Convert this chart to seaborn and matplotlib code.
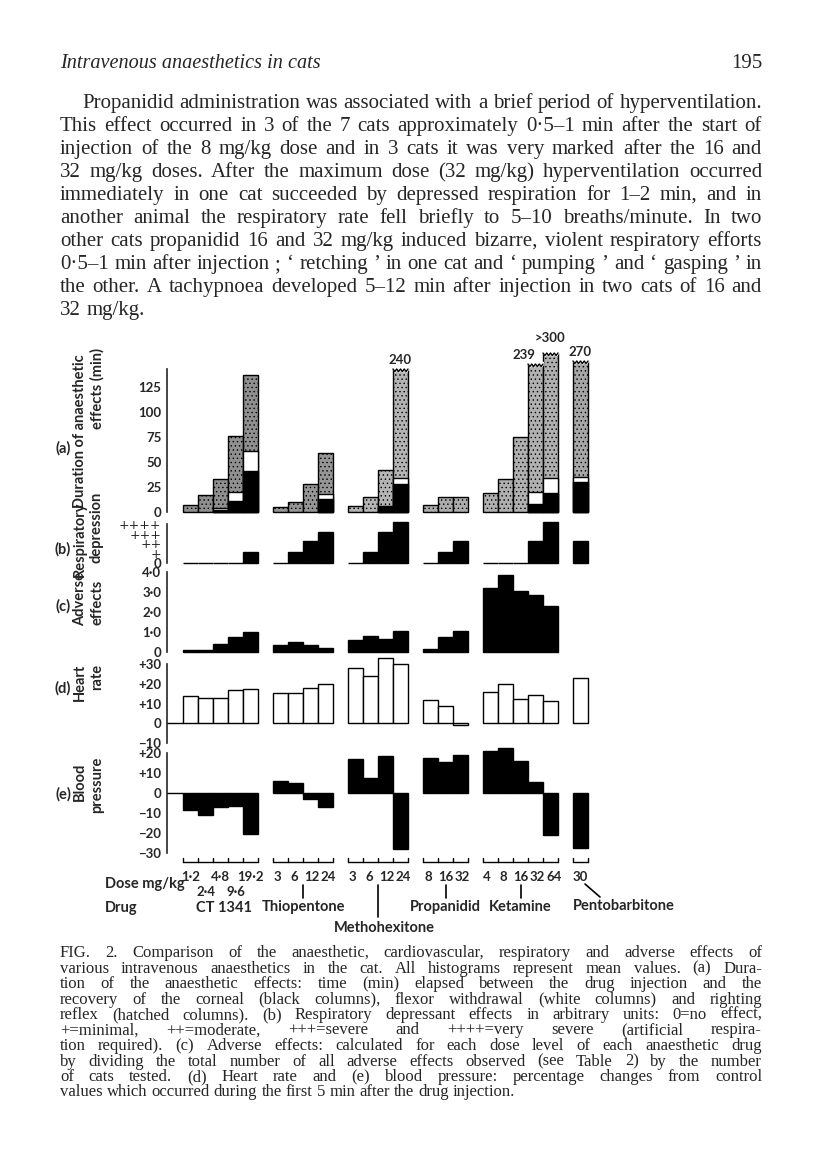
import numpy as np
import pandas as pd
import matplotlib
matplotlib.use('Agg')
import matplotlib.pyplot as plt
import matplotlib.transforms as mtransforms
import seaborn as sns

# ---------------- values ----------------
drugs = ['CT 1341', 'Thiopentone', 'Methohexitone', 'Propanidid', 'Ketamine', 'Pentobarbitone']
doses = [['1·2', '2·4', '4·8', '9·6', '19·2'],
         ['3', '6', '12', '24'],
         ['3', '6', '12', '24'],
         ['8', '16', '32'],
         ['4', '8', '16', '32', '64'],
         ['30']]

# (a) duration (min): righting reflex (hatched), flexor withdrawal (white), corneal (black)
righting = [[7, 17, 33, 76, 137], [5, 10, 28, 59], [6, 15, 42, 240], [7, 15, 15],
            [19, 33, 75, 239, 300], [270]]
# height at which the broken columns are cut on the drawing
righting_drawn = [[7, 17, 33, 76, 137], [5, 10, 28, 59], [6, 15, 42, 143], [7, 15, 15],
                  [19, 33, 75, 148, 159], [151]]
break_labels = ['240', '239', '>300', '270']
flexor = [[None, None, 4, 20, 61], [None, None, None, 18], [None, None, 6.5, 34], [None, None, None],
          [None, None, None, 20, 34], [35]]
corneal = [[None, None, 2, 11, 41], [None, None, None, 13], [None, None, 5, 28], [None, None, None],
           [None, None, None, 8, 19], [30]]
# (b) respiratory depression, 0 .. ++++
resp = [[0, 0, 0, 0, 1.1], [0, 1.1, 2.2, 3.2], [0, 1.1, 3.2, 4.2], [0, 1.1, 2.2],
        [0, 0, 0, 2.2, 4.2], [2.2]]
# (c) adverse effects per cat
adverse = [[0.1, 0.1, 0.42, 0.75, 1.0], [0.35, 0.5, 0.37, 0.2], [0.62, 0.82, 0.63, 1.05],
           [0.17, 0.75, 1.05], [3.2, 3.85, 3.05, 2.83, 2.3], [None]]
# (d) heart rate, % change
heart = [[14, 13, 13, 17, 17.5], [15.5, 15.5, 18, 20], [28, 24, 33, 30], [12, 9, -1],
         [16, 20, 12.5, 14.5, 11.5], [23]]
# (e) blood pressure, % change
bp = [[-8.3, -11, -7, -6.3, -20.5], [5.8, 5.2, -3, -7], [17, 7.3, 18.7, -28], [17.3, 15.3, 19.2],
      [21, 22.5, 16, 5.5, -21], [-27.5]]

greys = {'CT 1341': '#909090', 'Thiopentone': '#969696', 'Methohexitone': '#b4b4b4',
         'Propanidid': '#adadad', 'Ketamine': '#b0b0b0', 'Pentobarbitone': '#a6a6a6'}

rows = []
start = 0
for g, drug in enumerate(drugs):
    for i, dose in enumerate(doses[g]):
        rows.append(dict(drug=drug, group=g, dose=dose, pos=start + i + 0.5,
                         a_total=righting[g][i], a_drawn=righting_drawn[g][i],
                         a_flex=flexor[g][i], a_corn=corneal[g][i],
                         resp=resp[g][i], adverse=adverse[g][i],
                         heart=heart[g][i], bp=bp[g][i]))
    start += len(doses[g]) + 1
df = pd.DataFrame(rows).astype({c: float for c in ['a_flex', 'a_corn', 'adverse']})

# ---------------- page ----------------
sns.set_style('white')
plt.rcParams['font.family'] = ['Lato', 'DejaVu Sans']
plt.rcParams['hatch.linewidth'] = 0.5
W, H = 816, 1151
fig = plt.figure(figsize=(W / 100, H / 100), dpi=100)
page = fig.add_axes([0, 0, 1, 1])
page.set_xlim(0, W)
page.set_ylim(H, 0)
page.axis('off')

SERIF = ['Liberation Serif', 'DejaVu Serif']
renderer = fig.canvas.get_renderer()


def text_w(s, size):
    t = page.text(0, 0, s, fontsize=size, family=SERIF)
    w = t.get_window_extent(renderer).width
    t.remove()
    return w


def justified(lines, x0, x1, y0, step, indent=0, max_size=99):
    # font size chosen so that the fullest line just fits with normal spaces
    ratios = [(x1 - x0 - (indent if k == 0 else 0)) / text_w(l, 10)
              for k, l in enumerate(lines[:-1])]
    size = min(10 * min(ratios) * 0.995, max_size)
    space = text_w('a a', size) - 2 * text_w('a', size)
    for k, line in enumerate(lines):
        words = line.split(' ')
        ts = [page.text(0, 0, w, fontsize=size, family=SERIF, va='baseline') for w in words]
        widths = [t.get_window_extent(renderer).width for t in ts]
        left = x0 + (indent if k == 0 else 0)
        if k == len(lines) - 1 or len(words) == 1:
            gap = space
        else:
            gap = (x1 - left - sum(widths)) / (len(words) - 1)
        x = left
        for t, w in zip(ts, widths):
            t.set_position((x, y0 + k * step))
            x += w + gap
    return size


para = ["Propanidid administration was associated with a brief period of hyperventilation.",
        "This effect occurred in 3 of the 7 cats approximately 0·5–1 min after the start of",
        "injection of the 8 mg/kg dose and in 3 cats it was very marked after the 16 and",
        "32 mg/kg doses. After the maximum dose (32 mg/kg) hyperventilation occurred",
        "immediately in one cat succeeded by depressed respiration for 1–2 min, and in",
        "another animal the respiratory rate fell briefly to 5–10 breaths/minute. In two",
        "other cats propanidid 16 and 32 mg/kg induced bizarre, violent respiratory efforts",
        "0·5–1 min after injection ; ‘ retching ’ in one cat and ‘ pumping ’ and ‘ gasping ’ in",
        "the other. A tachypnoea developed 5–12 min after injection in two cats of 16 and",
        "32 mg/kg."]
body_size = justified(para, 60, 762, 108, 23, indent=22)

page.text(60, 68, 'Intravenous anaesthetics in cats', fontsize=body_size * 0.97, family=SERIF,
          style='italic', va='baseline')
page.text(762, 68, '195', fontsize=body_size, family=SERIF, ha='right', va='baseline')

caption = ["FIG. 2. Comparison of the anaesthetic, cardiovascular, respiratory and adverse effects of",
           "various intravenous anaesthetics in the cat. All histograms represent mean values. (a) Dura-",
           "tion of the anaesthetic effects: time (min) elapsed between the drug injection and the",
           "recovery of the corneal (black columns), flexor withdrawal (white columns) and righting",
           "reflex (hatched columns). (b) Respiratory depressant effects in arbitrary units: 0=no effect,",
           "+=minimal, ++=moderate, +++=severe and ++++=very severe (artificial respira-",
           "tion required). (c) Adverse effects: calculated for each dose level of each anaesthetic drug",
           "by dividing the total number of all adverse effects observed (see Table 2) by the number",
           "of cats tested. (d) Heart rate and (e) blood pressure: percentage changes from control",
           "values which occurred during the first 5 min after the drug injection."]
justified(caption, 60, 762, 957, 15.5, max_size=12.0)

# ---------------- chart panels ----------------
AX_L, AX_R, BAR0, BARW = 167, 620, 183, 15
xmin, xmax = (AX_L - BAR0) / BARW, (AX_R - BAR0) / BARW
LAB = 10.5
TICK = 9.5


def panel(y0, scale, vmin, vmax, lo, hi, ticks, labels):
    pb, pt = y0 - vmin * scale, y0 - vmax * scale
    ax = fig.add_axes([AX_L / W, 1 - pb / H, (AX_R - AX_L) / W, (pb - pt) / H])
    ax.patch.set_alpha(0)
    sns.despine(ax=ax, top=True, right=True, bottom=True)
    ax.spines['left'].set_bounds(lo, hi)
    ax.spines['left'].set_linewidth(1.2)
    ax.set_yticks(ticks)
    ax.set_yticklabels(labels)
    ax.tick_params(axis='y', direction='in', length=4, width=1, pad=4, labelsize=TICK)
    for t in ax.get_yticklabels():
        t.set_fontweight('bold')
    return ax


def bars(ax, col, **kw):
    d = df.dropna(subset=[col])
    sns.barplot(data=d, x='pos', y=col, native_scale=True, width=1, errorbar=None,
                edgecolor='black', linewidth=1, saturation=1, ax=ax, **kw)


def finish(ax, vmin, vmax):
    ax.set_xlim(xmin, xmax)
    ax.set_ylim(vmin, vmax)
    ax.set_xticks([])
    ax.set_xlabel('')
    ax.set_ylabel('')


# (a)
axa = panel(512, 1.0, -3, 165, 0, 143, [0, 25, 50, 75, 100, 125], ['0', '25', '50', '75', '100', '125'])
bars(axa, 'a_drawn', hue='drug', palette=greys, legend=False)
for p in axa.patches:
    p.set_hatch('....')   # stippled "hatched" columns
bars(axa, 'a_flex', color='white')
bars(axa, 'a_corn', color='black')
broken = df[df['a_total'] > df['a_drawn']]
for (_, r), lab in zip(broken.iterrows(), break_labels):
    zx = np.linspace(r['pos'] - 0.5, r['pos'] + 0.5, 9)
    zy = r['a_drawn'] - 2.5 * (np.arange(9) % 2)
    axa.fill_between(zx, zy, r['a_drawn'] + 2, color='white', zorder=5)
    axa.plot(zx, zy, color='black', lw=1, zorder=6)
    dx = -0.8 if lab == '239' else 0
    dy = 9 if lab == '>300' else 3
    axa.text(r['pos'] + dx, r['a_drawn'] + dy, lab, ha='center', va='bottom',
             fontsize=TICK, fontweight='bold', zorder=7)
finish(axa, -3, 165)

# (b)
axb = panel(562.5, 9.6, -0.3, 4.4, 0, 4, [0, 1, 2, 3, 4], ['0', '+', '++', '+++', '++++'])
for t in axb.get_yticklabels()[1:]:
    t.set_fontweight('normal')
    t.set_family(['DejaVu Sans'])
    t.set_fontsize(9)
bars(axb, 'resp', color='black')
finish(axb, -0.3, 4.4)

# (c)
axc = panel(652, 20, -0.2, 4.2, 0, 4, [0, 1, 2, 3, 4], ['0', '1·0', '2·0', '3·0', '4·0'])
bars(axc, 'adverse', color='black')
finish(axc, -0.2, 4.2)

# (d)
axd = panel(723.3, 1.97, -11, 35, -10, 30, [-10, 0, 10, 20, 30], ['−10', '0', '+10', '+20', '+30'])
bars(axd, 'heart', color='white')
axd.plot([xmin, 0], [0, 0], color='black', lw=1)
finish(axd, -11, 35)

# (e)
axe = panel(793, 2.0, -31, 23, -30, 20, [-30, -20, -10, 0, 10, 20],
            ['−30', '−20', '−10', '0', '+10', '+20'])
bars(axe, 'bp', color='black')
axe.plot([xmin, 0], [0, 0], color='black', lw=1)
finish(axe, -31, 23)

# ---------------- side labels ----------------
side = [('(a)', 448, 'Duration of anaesthetic', 431, 'effects (min)', 388),
        ('(b)', 549, 'Respiratory', 539, 'depression', 527),
        ('(c)', 606, 'Adverse', 599, 'effects', 602),
        ('(d)', 688, 'Heart', 682, 'rate', 677),
        ('(e)', 794, 'Blood', 782, 'pressure', 785)]
for letter, ly, l1, y1, l2, y2 in side:
    page.text(63, ly, letter, ha='center', va='center', fontsize=LAB, fontweight='bold')
    page.text(80, y1, l1, rotation=90, ha='center', va='center', fontsize=LAB, fontweight='bold')
    page.text(97, y2, l2, rotation=90, ha='center', va='center', fontsize=LAB, fontweight='bold')

# ---------------- dose / drug legend under the panels ----------------
tr = mtransforms.blended_transform_factory(axe.transData, page.transData)
for g, drug in enumerate(drugs):
    sub = df[df['group'] == g]
    n = len(sub)
    left, right = sub['pos'].min() - 0.5, sub['pos'].max() + 0.5
    page.plot([left, right], [862, 862], color='black', lw=1, transform=tr)
    for e in np.arange(left, right + 0.01, 1.0):
        page.plot([e, e], [862, 858], color='black', lw=1, transform=tr)
    for i, (p, dose) in enumerate(zip(sub['pos'], sub['dose'])):
        row_y = 892 if (g == 0 and i % 2 == 1) else 877
        spread = 0.0 if g == 0 else 0.12 * (i - (n - 1) / 2)
        page.text(p + spread, row_y, dose, ha='center', va='center', fontsize=TICK,
                  fontweight='bold', transform=tr)
    mid = (left + right) / 2
    if drug == 'Methohexitone':
        page.plot([mid, mid], [885, 917], color='black', lw=1.2, transform=tr)
        page.text(mid + 0.4, 928, drug, ha='center', va='center', fontsize=LAB, fontweight='bold', transform=tr)
    elif drug == 'Pentobarbitone':
        page.plot([mid + 0.3, mid + 1.3], [884, 897], color='black', lw=1.2, transform=tr)
        page.text(left, 906, drug, ha='left', va='center', fontsize=LAB, fontweight='bold', transform=tr)
    elif drug == 'CT 1341':
        page.text(mid + 0.2, 908, drug, ha='center', va='center', fontsize=LAB, fontweight='bold', transform=tr)
    else:
        page.plot([mid, mid], [885, 898], color='black', lw=1.2, transform=tr)
        page.text(mid, 907, drug, ha='center', va='center', fontsize=LAB, fontweight='bold', transform=tr)

page.text(105, 884, 'Dose mg/kg', ha='left', va='center', fontsize=LAB, fontweight='bold')
page.text(105, 908, 'Drug', ha='left', va='center', fontsize=LAB, fontweight='bold')

fig.savefig('out.png', dpi=100)
